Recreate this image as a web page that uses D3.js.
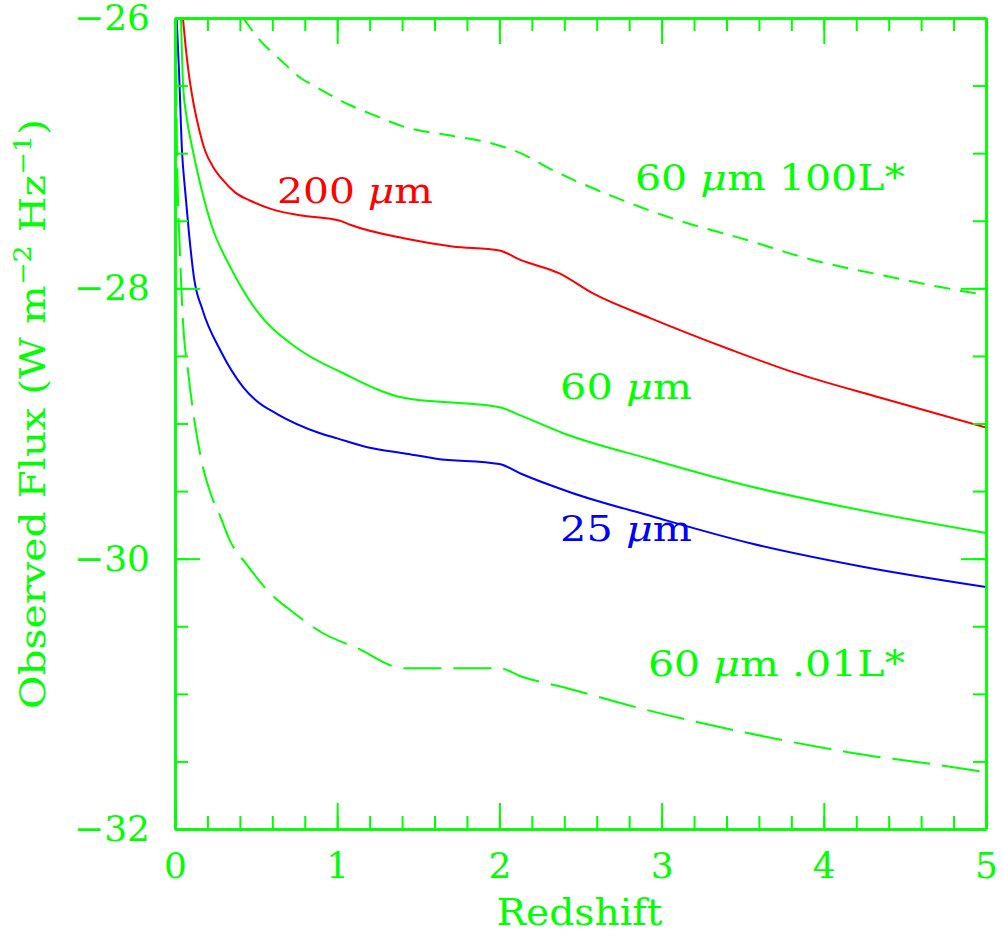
<!DOCTYPE html>
<html>
<head>
<meta charset="utf-8">
<script src="https://cdn.jsdelivr.net/npm/d3@7"></script>
<style>
  body { margin: 0; background: #fff; }
  svg text { font-family: "DejaVu Serif", serif; }
</style>
</head>
<body>
<svg id="chart"></svg>
<script>
// redshift / log flux
const zRed = [0.049, 0.068, 0.086, 0.111, 0.142, 0.185, 0.234, 0.296, 0.37, 0.462, 0.586, 0.771, 1.017, 1.08, 1.41, 1.71, 2.00, 2.13, 2.37, 2.58, 2.93, 3.44, 3.81, 4.35, 5.00]
const fluxRed = [-26.0, -26.24, -26.42, -26.61, -26.79, -26.98, -27.10, -27.20, -27.29, -27.35, -27.41, -27.46, -27.50, -27.53, -27.63, -27.69, -27.72, -27.79, -27.89, -28.04, -28.22, -28.46, -28.62, -28.81, -29.03]

const zGreen = [0.037, 0.05, 0.07, 0.11, 0.16, 0.23, 0.34, 0.50, 0.75, 1.04, 1.41, 2.00, 2.13, 2.39, 2.95, 3.53, 4.14, 5.00]
const fluxGreen = [-26.0, -26.5, -26.72, -26.98, -27.25, -27.55, -27.84, -28.16, -28.44, -28.63, -28.81, -28.88, -28.94, -29.07, -29.27, -29.46, -29.62, -29.81]

const zBlue = [0.010, 0.025, 0.043, 0.062, 0.086, 0.117, 0.17, 0.28, 0.42, 0.50, 0.63, 0.89, 1.00, 1.20, 1.41, 1.61, 2.00, 2.13, 2.44, 2.95, 3.56, 4.24, 5.00]
const fluxBlue = [-26.0, -26.4, -26.98, -27.27, -27.59, -27.92, -28.16, -28.46, -28.73, -28.83, -28.93, -29.07, -29.11, -29.18, -29.22, -29.26, -29.30, -29.37, -29.51, -29.69, -29.89, -30.06, -30.21]

const zBright = [0.42, 0.52, 0.65, 0.77, 0.87, 1.07, 1.25, 1.40, 1.70, 1.96, 2.09, 2.37, 2.70, 3.11, 3.52, 3.93, 4.35, 4.76, 5.00]
const fluxBright = [-26.0, -26.16, -26.31, -26.44, -26.51, -26.64, -26.73, -26.80, -26.87, -26.93, -26.98, -27.15, -27.32, -27.50, -27.64, -27.79, -27.90, -28.00, -28.05]

const zFaint = [0.006, 0.012, 0.03, 0.05, 0.08, 0.12, 0.17, 0.22, 0.28, 0.34, 0.44, 0.59, 0.71, 0.91, 1.12, 1.41, 2.00, 2.13, 2.39, 2.91, 3.53, 4.14, 4.84, 5.00]
const fluxFaint = [-26.0, -26.98, -27.72, -28.26, -28.61, -28.98, -29.31, -29.52, -29.69, -29.87, -30.04, -30.26, -30.38, -30.55, -30.66, -30.81, -30.81, -30.87, -30.95, -31.12, -31.29, -31.43, -31.55, -31.58]

const xTickLabels = [0, 1, 2, 3, 4, 5]
const yTickLabels = [-26, -28, -30, -32]

const GREEN = "#00ff00"
const W = 1003, H = 937

const svg = d3.select("#chart").attr("width", W).attr("height", H)

const x = d3.scaleLinear().domain([0, 5]).range([175, 986])
const y = d3.scaleLinear().domain([-26, -32]).range([18, 829])

//clip for the curves
svg.append("clipPath").attr("id", "plotClip")
  .append("rect")
  .attr("x", x(0)).attr("y", y(-26))
  .attr("width", x(5) - x(0)).attr("height", y(-32) - y(-26))

const line = d3.line()
  .x(d => x(d[0]))
  .y(d => y(d[1]))
  .curve(d3.curveMonotoneX)

const series = [
  { z: zBright, f: fluxBright, color: GREEN, dash: "16,10" },
  { z: zRed, f: fluxRed, color: "#ff0000", dash: null },
  { z: zGreen, f: fluxGreen, color: GREEN, dash: null },
  { z: zBlue, f: fluxBlue, color: "#0000ff", dash: null },
  { z: zFaint, f: fluxFaint, color: GREEN, dash: "38,12" }
]

svg.append("g").attr("clip-path", "url(#plotClip)")
  .selectAll("path")
  .data(series)
  .enter()
  .append("path")
  .attr("d", d => line(d3.zip(d.z, d.f)))
  .attr("fill", "none")
  .attr("stroke", d => d.color)
  .attr("stroke-width", 2)
  .attr("stroke-dasharray", d => d.dash)

//axes - ticks drawn inward on all four sides
const xMinor = x.ticks(25)
const yMinor = y.ticks(12)

function styleAxis(g) {
  g.selectAll("path.domain").attr("stroke", GREEN).attr("stroke-width", 2.5)
  g.selectAll(".tick line").attr("stroke", GREEN).attr("stroke-width", 2)
  g.selectAll(".tick text").attr("fill", GREEN).attr("font-size", 36)
    .attr("font-family", "DejaVu Serif, serif")
}

const fmt = d3.format("d")

svg.append("g").attr("transform", `translate(0,${y(-32)})`)
  .call(d3.axisBottom(x).tickValues(xMinor).tickSize(-13).tickSizeOuter(0).tickFormat(""))
  .call(styleAxis)
svg.append("g").attr("transform", `translate(0,${y(-32)})`)
  .call(d3.axisBottom(x).tickValues(xTickLabels).tickSize(-26).tickSizeOuter(0).tickPadding(23).tickFormat(fmt))
  .call(styleAxis)

svg.append("g").attr("transform", `translate(0,${y(-26)})`)
  .call(d3.axisTop(x).tickValues(xMinor).tickSize(-13).tickSizeOuter(0).tickFormat(""))
  .call(styleAxis)
svg.append("g").attr("transform", `translate(0,${y(-26)})`)
  .call(d3.axisTop(x).tickValues(xTickLabels).tickSize(-26).tickSizeOuter(0).tickFormat(""))
  .call(styleAxis)

svg.append("g").attr("transform", `translate(${x(0)},0)`)
  .call(d3.axisLeft(y).tickValues(yMinor).tickSize(-13).tickSizeOuter(0).tickFormat(""))
  .call(styleAxis)
svg.append("g").attr("transform", `translate(${x(0)},0)`)
  .call(d3.axisLeft(y).tickValues(yTickLabels).tickSize(-25).tickSizeOuter(0).tickPadding(25).tickFormat(fmt))
  .call(styleAxis)

svg.append("g").attr("transform", `translate(${x(5)},0)`)
  .call(d3.axisRight(y).tickValues(yMinor).tickSize(-13).tickSizeOuter(0).tickFormat(""))
  .call(styleAxis)
svg.append("g").attr("transform", `translate(${x(5)},0)`)
  .call(d3.axisRight(y).tickValues(yTickLabels).tickSize(-25).tickSizeOuter(0).tickFormat(""))
  .call(styleAxis)

//axis titles
svg.append("text")
  .attr("x", (x(0) + x(5)) / 2 - 1)
  .attr("y", 925)
  .attr("text-anchor", "middle")
  .attr("font-size", 37)
  .attr("fill", GREEN)
  .attr("textLength", 166)
  .attr("lengthAdjust", "spacingAndGlyphs")
  .text("Redshift")

const yTitle = svg.append("text")
  .attr("transform", "translate(45,414) rotate(-90)")
  .attr("text-anchor", "middle")
  .attr("font-size", 36)
  .attr("fill", GREEN)
  .attr("textLength", 590)
  .attr("lengthAdjust", "spacingAndGlyphs")
yTitle.append("tspan").text("Observed Flux (W m")
yTitle.append("tspan").attr("font-size", 24).attr("dy", -14).text("\u22122")
yTitle.append("tspan").attr("dy", 14).text(" Hz")
yTitle.append("tspan").attr("font-size", 24).attr("dy", -14).text("\u22121")
yTitle.append("tspan").attr("dy", 14).text(")")

//curve labels
const labels = [
  { z: 0.629, f: -27.37, pre: "200 ", post: "m", color: "#ff0000", len: 156 },
  { z: 2.836, f: -27.27, pre: "60 ", post: "m 100L*", color: GREEN, len: 270 },
  { z: 2.374, f: -28.82, pre: "60 ", post: "m", color: GREEN, len: 132 },
  { z: 2.374, f: -29.87, pre: "25 ", post: "m", color: "#0000ff", len: 132 },
  { z: 2.916, f: -30.87, pre: "60 ", post: "m .01L*", color: GREEN, len: 257 }
]

labels.forEach(function (d) {
  const t = svg.append("text")
    .attr("x", x(d.z))
    .attr("y", y(d.f))
    .attr("font-size", 36)
    .attr("fill", d.color)
    .attr("textLength", d.len)
    .attr("lengthAdjust", "spacingAndGlyphs")
    .style("white-space", "pre")
  t.append("tspan").text(d.pre)
  t.append("tspan").attr("font-style", "italic").text("\u03bc")
  t.append("tspan").text(d.post)
})
</script>
</body>
</html>
